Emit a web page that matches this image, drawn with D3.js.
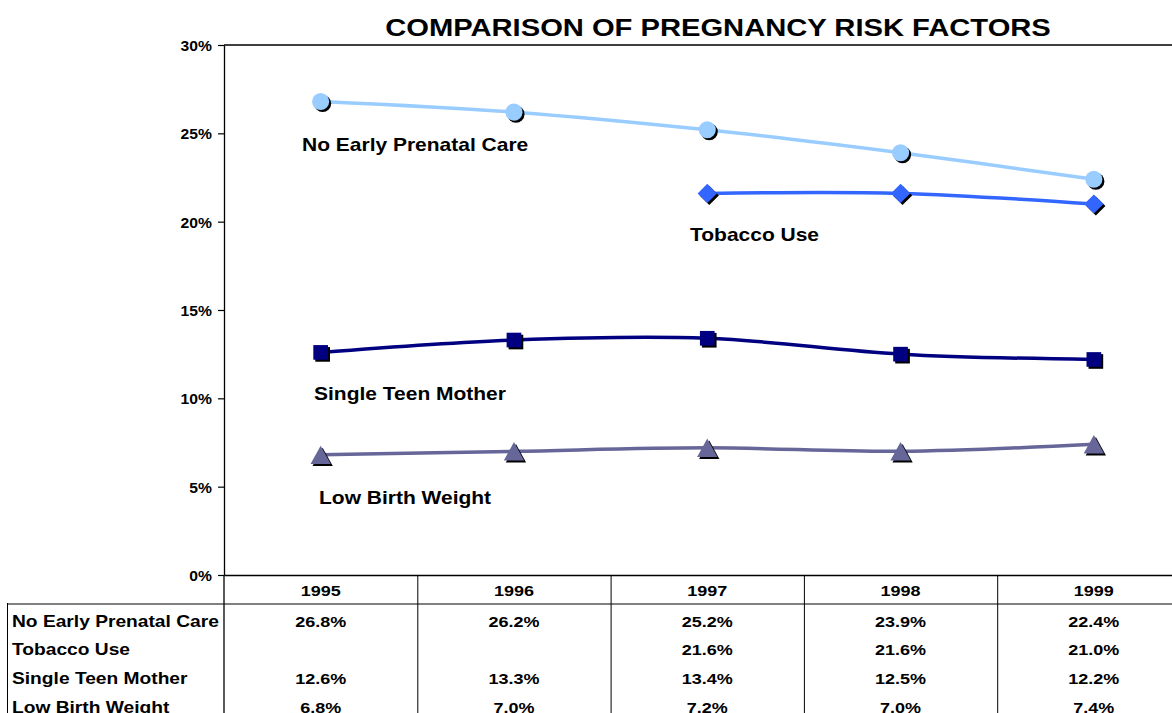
<!DOCTYPE html>
<html>
<head>
<meta charset="utf-8">
<script src="https://cdn.jsdelivr.net/npm/d3@7"></script>
<style>
  body { margin: 0; background: #fff; }
  svg { display: block; font-family: "Liberation Sans", Arial, sans-serif; font-weight: bold; }
</style>
</head>
<body>
<svg id="chart" width="1172" height="713"></svg>
<script>
// data
const years = ["1995", "1996", "1997", "1998", "1999"];
const noPrenatal = [26.8, 26.2, 25.2, 23.9, 22.4];
const tobacco = [null, null, 21.6, 21.6, 21.0];
const teenMother = [12.6, 13.3, 13.4, 12.5, 12.2];
const lowBirth = [6.8, 7.0, 7.2, 7.0, 7.4];
const yTicks = [0, 5, 10, 15, 20, 25, 30];

const seriesNames = ["No Early Prenatal Care", "Tobacco Use", "Single Teen Mother", "Low Birth Weight"];
const seriesColors = ["#99ccff", "#3366ff", "#000080", "#666699"];
const seriesValues = [noPrenatal, tobacco, teenMother, lowBirth];

const stretch = 1.2; // text in the picture is drawn a little wide
const plot = { left: 224, top: 45, bottom: 575, colW: 193.3 };

const svg = d3.select("#chart");

const x = d3.scaleBand().domain(years).range([plot.left, plot.left + plot.colW * years.length]);
const y = d3.scaleLinear().domain([0, 30]).range([plot.bottom, plot.top]);

function wideText(g, str, px, py, size, anchor) {
    return g.append("text")
        .attr("transform", `translate(${px},${py}) scale(${stretch},1)`)
        .attr("text-anchor", anchor || "start")
        .style("font-size", size + "px")
        .text(str);
}

// title
wideText(svg, "COMPARISON OF PREGNANCY RISK FACTORS", 718, 36, 24.3, "middle");

// plot border (top)
svg.append("line")
    .attr("x1", plot.left).attr("x2", 1172)
    .attr("y1", plot.top).attr("y2", plot.top)
    .attr("stroke", "#000").attr("stroke-width", 1.3);

// y axis
const yAxis = svg.append("g")
    .attr("transform", `translate(${plot.left},0)`)
    .call(d3.axisLeft(y).tickValues(yTicks).tickSize(6).tickSizeOuter(0).tickFormat(d => d + "%"));
yAxis.select(".domain").attr("stroke-width", 1.3);
yAxis.selectAll(".tick line").attr("stroke-width", 1.2);
yAxis.selectAll("text")
    .attr("x", null).attr("dy", null)
    .attr("transform", `translate(-12,5.5) scale(1.12,1)`)
    .style("font-size", "14px")
    .style("font-family", "Liberation Sans, Arial, sans-serif")
    .style("font-weight", "bold")
    .attr("fill", "#000");

// x axis = table header
const xAxis = svg.append("g")
    .attr("transform", `translate(0,${plot.bottom})`)
    .call(d3.axisBottom(x).tickSize(0).tickSizeOuter(0));
xAxis.select(".domain").attr("stroke-width", 1.3);
xAxis.selectAll("text")
    .attr("y", null).attr("dy", null)
    .attr("transform", `translate(0,20.5) scale(${stretch},1)`)
    .style("font-size", "15px")
    .style("font-family", "Liberation Sans, Arial, sans-serif")
    .style("font-weight", "bold")
    .attr("fill", "#000");

// table grid
const table = svg.append("g");
table.append("line")
    .attr("x1", 7).attr("x2", 1172).attr("y1", 604).attr("y2", 604)
    .attr("stroke", "#808080").attr("stroke-width", 2);
table.append("line")
    .attr("x1", 7.5).attr("x2", 7.5).attr("y1", 603).attr("y2", 713)
    .attr("stroke", "#000").attr("stroke-width", 1);
table.append("line")
    .attr("x1", plot.left).attr("x2", plot.left).attr("y1", plot.bottom).attr("y2", 713)
    .attr("stroke", "#000").attr("stroke-width", 1.3);
table.selectAll(".sep")
    .data(years.slice(1))
    .enter().append("line")
    .attr("class", "sep")
    .attr("x1", d => x(d) + 0.5).attr("x2", d => x(d) + 0.5)
    .attr("y1", plot.bottom).attr("y2", 713)
    .attr("stroke", "#000").attr("stroke-width", 1);

const rowY = i => 626.5 + i * 28.7;
seriesNames.forEach((name, i) => {
    wideText(table, name, 12, rowY(i), 16);
    seriesValues[i].forEach((v, j) => {
        if (v == null) return;
        wideText(table, v.toFixed(1) + "%", x(years[j]) + x.bandwidth() / 2, rowY(i), 15, "middle");
    });
});

// lines
const line = d3.line()
    .defined(d => d.v != null)
    .x(d => x(d.year) + x.bandwidth() / 2)
    .y(d => y(d.v))
    .curve(d3.curveCatmullRom.alpha(0));

const triangle = {
    draw(ctx, size) {
        const h = Math.sqrt(size) / 2;
        ctx.moveTo(0, -h);
        ctx.lineTo(h * 1.1, h);
        ctx.lineTo(-h * 1.1, h);
        ctx.closePath();
    }
};
const markers = [
    { type: d3.symbolCircle, size: 230, rot: 0 },
    { type: d3.symbolSquare, size: 185, rot: 45 },
    { type: d3.symbolSquare, size: 215, rot: 0 },
    { type: triangle, size: 340, rot: 0 }
];

seriesValues.forEach((vals, i) => {
    const pts = vals.map((v, j) => ({ year: years[j], v: v }));
    const g = svg.append("g");
    g.append("path")
        .datum(pts)
        .attr("d", line)
        .attr("fill", "none")
        .attr("stroke", seriesColors[i])
        .attr("stroke-width", 3.5);

    const sym = d3.symbol().type(markers[i].type).size(markers[i].size);
    const valid = pts.filter(d => d.v != null);
    g.selectAll(".shadow")
        .data(valid)
        .enter().append("path")
        .attr("class", "shadow")
        .attr("d", sym)
        .attr("fill", "#000")
        .attr("transform", d => `translate(${x(d.year) + x.bandwidth() / 2 + 2},${y(d.v) + 2}) rotate(${markers[i].rot})`);
    g.selectAll(".mark")
        .data(valid)
        .enter().append("path")
        .attr("class", "mark")
        .attr("d", sym)
        .attr("fill", seriesColors[i])
        .attr("transform", d => `translate(${x(d.year) + x.bandwidth() / 2},${y(d.v)}) rotate(${markers[i].rot})`);
});

// series labels inside the plot
const labelPos = [
    { px: 302, v: 24.0 },
    { px: 690, v: 18.9 },
    { px: 314, v: 9.9 },
    { px: 319, v: 4.0 }
];
seriesNames.forEach((name, i) => {
    wideText(svg, name, labelPos[i].px, y(labelPos[i].v), 17.5);
});
</script>
</body>
</html>
